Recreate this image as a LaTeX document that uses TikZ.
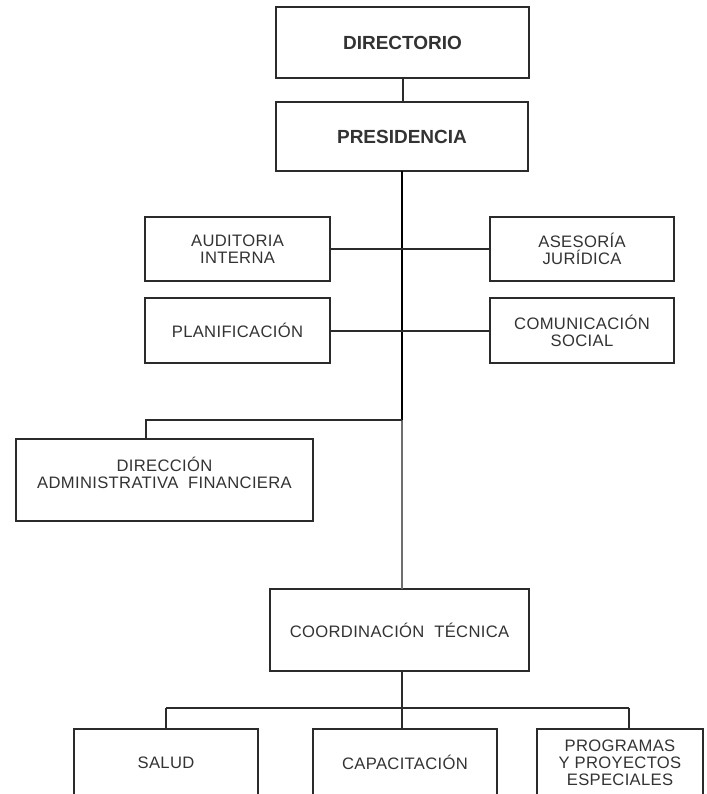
\documentclass[tikz,border=0pt]{standalone}
\usepackage{fontspec}
\setmainfont{Liberation Sans}
\newfontfamily\boxfont[LetterSpace=2]{Liberation Sans}
\definecolor{ink}{HTML}{2B2B2B}
\definecolor{txt}{HTML}{333333}
\definecolor{trunkgrey}{HTML}{6E6E6E}
\begin{document}
\begin{tikzpicture}[x=1pt,y=-1pt,
  box/.style={draw=ink, line width=1.3pt, rectangle, inner sep=0pt, text=txt, align=center,
              font=\boxfont\fontsize{16.6}{17}\selectfont},
  head/.style={box, font=\rmfamily\fontsize{19}{20}\selectfont\bfseries},
  plain/.style={text=txt, align=center, inner sep=0pt, font=\boxfont\fontsize{16.6}{17}\selectfont},
  conn/.style={draw=ink, line width=1.3pt},
  trunk/.style={draw=black, line width=2.6pt},
  thintrunk/.style={draw=trunkgrey, line width=1.6pt}]
\useasboundingbox (0,0) rectangle (706,794);
\fill[white] (0,0) rectangle (706,794);

\node[head, minimum width=253pt, minimum height=71pt] (dir) at (402.5,42.5) {DIRECTORIO};
\node[head, minimum width=252pt, minimum height=69pt] (pres) at (402,136.5) {PRESIDENCIA};

\node[box, minimum width=185pt, minimum height=64pt] (aud) at (237.5,249) {AUDITORIA\\INTERNA};
\node[box, minimum width=184pt, minimum height=64pt] (ase) at (582,249) {ASESORÍA\\JURÍDICA};
\node[box, minimum width=185pt, minimum height=65pt] (plan) at (237.5,330.5) {PLANIFICACIÓN};
\node[box, minimum width=184pt, minimum height=65pt] (com) at (582,330.5) {COMUNICACIÓN\\SOCIAL};

\node[box, minimum width=297pt, minimum height=82pt] (daf) at (164.5,480) {};
\node[plain] (daftext) at (164.5,473) {DIRECCIÓN\\ADMINISTRATIVA\ \ FINANCIERA};

\node[box, minimum width=259pt, minimum height=82pt] (coord) at (399.5,630) {COORDINACIÓN\ \ TÉCNICA};

\node[box, minimum width=184pt, minimum height=67pt] (salud) at (166,762.5) {SALUD};
\node[box, minimum width=184pt, minimum height=67pt] (capa) at (405,762.5) {CAPACITACIÓN};
\node[box, minimum width=166pt, minimum height=67pt] (prog) at (620,762.5) {PROGRAMAS\\Y PROYECTOS\\ESPECIALES};

% connectors
\coordinate (top) at (402,171);
\coordinate (jdaf) at (402,420);
\coordinate (cdaf) at (146,420);
\coordinate (jbot) at (402,708);
\coordinate (lbot) at (166,708);
\coordinate (rbot) at (629,708);

\draw[conn] (403,78) -- (403,102);
\draw[trunk] (top) -- (jdaf);
\draw[thintrunk] (jdaf) -- (402,589);
\draw[conn] (aud.east) -- (ase.west);
\draw[conn] ([yshift=-0.5pt]plan.east) -- ([yshift=-0.5pt]com.west);
\draw[conn] (jdaf) -- (cdaf) -- (cdaf |- daf.north);
\draw[conn] (402,671) -- (402,729);
\draw[conn] (lbot) -- (rbot);
\draw[conn] (lbot) -- (salud.north);
\draw[conn] (rbot) -- (rbot |- prog.north);
\end{tikzpicture}
\end{document}
